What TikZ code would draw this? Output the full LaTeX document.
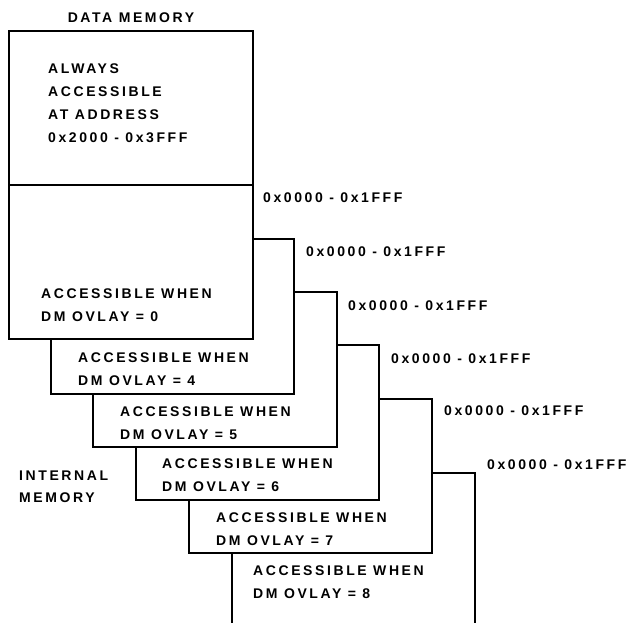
\documentclass[tikz,border=0pt]{standalone}
\usepackage{fontspec}
\setmainfont{Liberation Sans}[LetterSpace=18.5]
\begin{document}
\begin{tikzpicture}[x=1pt,y=-1pt,
  box/.style={draw=black,fill=white,line width=1.6pt},
  lbl/.style={anchor=north west,inner sep=0pt,align=left,
    font=\fontsize{14}{23}\selectfont\bfseries}]
\useasboundingbox (0,0) rectangle (627,623);
% boxes, back to front
\draw[box] (232,623) -- (232,473) -- (475,473) -- (475,623);
\draw[box] (189,399) rectangle (432,553);
\draw[box] (136,345) rectangle (379,500);
\draw[box] (93,292) rectangle (337,447);
\draw[box] (51,239) rectangle (294,394);
\draw[box] (9,185) rectangle (253,339);
\draw[box] (9,31) rectangle (253,185);
% texts
\node[lbl,anchor=north] (title) at (131,13) {DATA MEMORY};
\node[lbl,font=\fontsize{14}{22.7}\selectfont\bfseries] (always) at (48,64) {ALWAYS\\ACCESSIBLE\\AT ADDRESS\\0x2000 - 0x3FFF};
\node[lbl] (t0) at (41,289) {ACCESSIBLE WHEN\\DM OVLAY = 0};
\node[lbl] (t4) at (78,353) {ACCESSIBLE WHEN\\DM OVLAY = 4};
\node[lbl] (t5) at (120,407) {ACCESSIBLE WHEN\\DM OVLAY = 5};
\node[lbl] (t6) at (162,459) {ACCESSIBLE WHEN\\DM OVLAY = 6};
\node[lbl] (t7) at (216,513) {ACCESSIBLE WHEN\\DM OVLAY = 7};
\node[lbl] (t8) at (253,566) {ACCESSIBLE WHEN\\DM OVLAY = 8};
\node[lbl,font=\fontsize{14}{22}\selectfont\bfseries] (internal) at (19,471) {INTERNAL\\MEMORY};
\node[lbl] (a0) at (263,193) {0x0000 - 0x1FFF};
\node[lbl] (a4) at (306,247) {0x0000 - 0x1FFF};
\node[lbl] (a5) at (348,301) {0x0000 - 0x1FFF};
\node[lbl] (a6) at (391,354) {0x0000 - 0x1FFF};
\node[lbl] (a7) at (444,406) {0x0000 - 0x1FFF};
\node[lbl] (a8) at (487,460) {0x0000 - 0x1FFF};
\end{tikzpicture}
\end{document}
